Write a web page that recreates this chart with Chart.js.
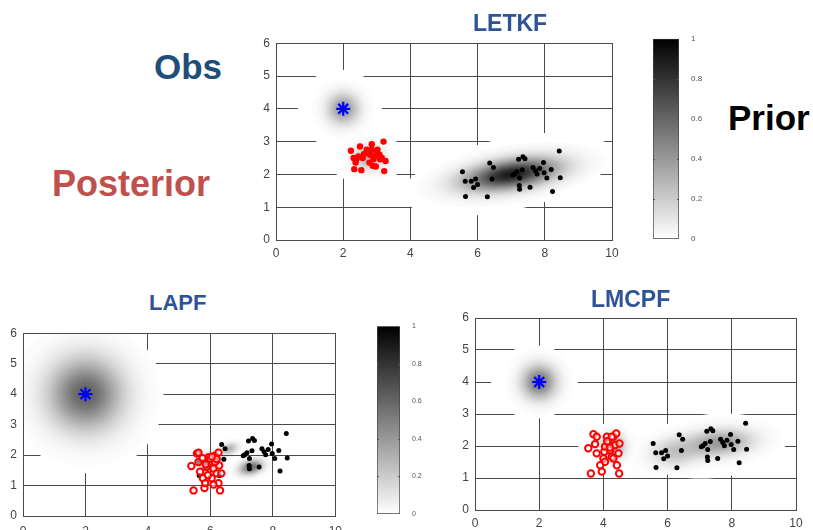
<!DOCTYPE html>
<html>
<head>
<meta charset="utf-8">
<script src="https://cdn.jsdelivr.net/npm/chart.js@4.4.1/dist/chart.umd.min.js"></script>
<style>
  html, body { margin: 0; padding: 0; background: #fff; }
  #stage { position: relative; width: 813px; height: 530px; overflow: hidden; font-family: 'Liberation Sans', Arial, sans-serif; }
  canvas { position: absolute; }
  .lbl { position: absolute; font-weight: bold; white-space: nowrap; line-height: 1; }
</style>
</head>
<body>
<div id="stage">
  <canvas id="c-letkf" width="390" height="230" style="left:240px;top:30px"></canvas>
  <canvas id="c-cb1" width="60" height="222" style="left:645px;top:30px"></canvas>
  <canvas id="c-lapf" width="350" height="210" style="left:0px;top:320px"></canvas>
  <canvas id="c-cb2" width="55" height="205" style="left:370px;top:318px"></canvas>
  <canvas id="c-lmcpf" width="373" height="230" style="left:440px;top:300px"></canvas>

  <div class="lbl" style="left:473px;top:12px;font-size:23px;color:#2f5496">LETKF</div>
  <div class="lbl" style="left:149px;top:292px;font-size:22px;color:#2f5496">LAPF</div>
  <div class="lbl" style="left:591px;top:288px;font-size:23px;color:#2f5496">LMCPF</div>
  <div class="lbl" style="left:154px;top:49px;font-size:35px;color:#1f4e79">Obs</div>
  <div class="lbl" style="left:728px;top:100px;font-size:35px;color:#000">Prior</div>
  <div class="lbl" style="left:52px;top:166px;font-size:36px;color:#c0504d">Posterior</div>
</div>
<script>
// ── Dados ──
const obsX = [2];
const obsY = [4];

// prior (mesmo conjunto nos três painéis)
const priorX = [5.55, 5.64, 5.63, 5.81, 5.88, 5.94, 6.00, 6.29, 6.36, 6.47, 6.43, 7.22, 7.35, 7.41, 7.10, 7.17, 7.33, 7.25, 7.24, 7.25, 7.56, 7.65, 7.72, 7.77, 7.96, 7.98, 8.06, 8.19, 8.23, 8.43, 8.46, 7.05, 7.85];
const priorY = [2.08, 1.33, 1.79, 1.79, 1.60, 1.86, 1.69, 1.32, 2.35, 2.21, 1.86, 2.46, 2.54, 2.48, 2.01, 2.08, 2.14, 1.89, 1.66, 1.55, 1.61, 2.21, 2.11, 2.01, 2.36, 2.05, 1.89, 2.15, 1.48, 2.71, 1.90, 1.98, 2.18];

const letkfPostX = [2.23, 2.31, 2.33, 2.37, 2.40, 2.54, 2.50, 2.58, 2.70, 2.80, 2.85, 2.85, 2.90, 2.88, 2.97, 3.00, 3.02, 3.08, 3.15, 3.20, 3.26, 3.22, 2.78, 3.10, 2.93, 2.62, 2.45];
const letkfPostY = [2.72, 2.50, 2.16, 2.36, 2.48, 2.13, 2.85, 2.50, 2.75, 2.60, 2.92, 2.75, 2.46, 2.26, 2.24, 2.65, 2.75, 2.60, 2.50, 3.00, 2.41, 2.10, 2.36, 2.46, 2.55, 2.62, 2.55];

const lapfPostX = [5.39, 5.46, 5.57, 5.62, 5.67, 5.76, 5.81, 5.83, 5.88, 5.94, 6.04, 6.10, 6.15, 6.20, 6.26, 6.28, 6.31, 6.35, 6.26, 6.04, 5.62, 5.92, 6.15, 5.99, 5.75, 6.20, 6.10, 6.05, 5.85];
const lapfPostY = [1.64, 0.84, 2.05, 1.77, 1.45, 1.24, 0.92, 1.08, 1.61, 1.93, 1.77, 1.56, 1.98, 1.40, 2.08, 1.66, 0.84, 1.40, 1.08, 1.24, 2.08, 1.34, 1.77, 1.88, 1.90, 1.87, 1.03, 1.95, 1.70];

const lmcpfPostX = [3.53, 3.61, 3.69, 3.74, 3.79, 3.90, 3.95, 4.00, 4.03, 4.05, 4.11, 4.16, 4.21, 4.26, 4.31, 4.37, 4.40, 4.42, 4.47, 4.49, 4.50, 4.31, 4.05, 3.79, 4.26, 4.20, 4.12];
const lmcpfPostY = [1.93, 1.14, 2.37, 2.06, 1.77, 1.40, 1.20, 1.61, 1.82, 1.51, 2.29, 2.08, 1.87, 1.66, 2.29, 2.03, 2.39, 1.40, 1.77, 1.14, 2.08, 1.61, 1.98, 2.29, 2.29, 1.95, 2.15];

const xTicks = [0, 2, 4, 6, 8, 10];
const yTicks = [0, 1, 2, 3, 4, 5, 6];
const cbTicks = [0, 0.2, 0.4, 0.6, 0.8, 1];

// ── Manchas de densidade (máscara branca + gaussiana em cinza) ──
const blobsLetkf = {
  masks: [
    { cx: 1.9, cy: 4.0, rx: 1.25, ry: 1.2, rot: 0 },
    { cx: 2.7, cy: 2.5, rx: 1.15, ry: 0.8, rot: 0 },
    { cx: 6.9, cy: 2.0, rx: 3.2, ry: 1.1, rot: 12 }
  ],
  gauss: [
    { cx: 2.0, cy: 4.0, sx: 0.32, sy: 0.32, rot: 0, peak: 0.42 },
    { cx: 2.75, cy: 2.5, sx: 0.3, sy: 0.25, rot: 0, peak: 0.3 },
    { cx: 7.0, cy: 2.0, sx: 0.95, sy: 0.3, rot: 9, peak: 0.9 }
  ]
};
const blobsLapf = {
  masks: [
    { cx: 2.1, cy: 3.9, rx: 2.4, ry: 2.5, rot: 0 }
  ],
  gauss: [
    { cx: 2.0, cy: 4.0, sx: 0.8, sy: 0.8, rot: 0, peak: 0.62 },
    { cx: 6.6, cy: 2.2, sx: 0.2, sy: 0.12, rot: 20, peak: 0.3 },
    { cx: 7.3, cy: 1.6, sx: 0.25, sy: 0.15, rot: 15, peak: 0.6 },
    { cx: 6.0, cy: 1.7, sx: 0.2, sy: 0.2, rot: 0, peak: 0.5 }
  ]
};
const blobsLmcpf = {
  masks: [
    { cx: 1.85, cy: 4.0, rx: 1.35, ry: 1.15, rot: 0 },
    { cx: 4.2, cy: 1.9, rx: 1.0, ry: 0.8, rot: 0 },
    { cx: 7.4, cy: 2.0, rx: 2.3, ry: 1.0, rot: 5 }
  ],
  gauss: [
    { cx: 2.0, cy: 4.0, sx: 0.36, sy: 0.36, rot: 0, peak: 0.55 },
    { cx: 4.3, cy: 2.0, sx: 0.25, sy: 0.25, rot: 0, peak: 0.4 },
    { cx: 6.2, cy: 1.8, sx: 0.5, sy: 0.3, rot: 5, peak: 0.22 },
    { cx: 7.6, cy: 2.1, sx: 0.7, sy: 0.28, rot: 5, peak: 0.4 }
  ]
};

const GRID = '#4a4a4a';
const pts = (xs, ys) => xs.map((x, i) => ({ x: x, y: ys[i] }));

const blobPlugin = {
  id: 'blobs',
  beforeDatasetsDraw(chart, args, opts) {
    const b = opts.blobs; if (!b) return;
    const ctx = chart.ctx, ca = chart.chartArea;
    const xs = chart.scales.x, ys = chart.scales.y;
    const kx = xs.getPixelForValue(1) - xs.getPixelForValue(0);
    const ky = ys.getPixelForValue(0) - ys.getPixelForValue(1);
    ctx.save();
    ctx.beginPath(); ctx.rect(ca.left, ca.top, ca.width, ca.height); ctx.clip();
    b.masks.forEach(m => {
      ctx.save();
      ctx.translate(xs.getPixelForValue(m.cx), ys.getPixelForValue(m.cy));
      ctx.rotate(-m.rot * Math.PI / 180);
      ctx.scale(m.rx * kx, m.ry * ky);
      ctx.beginPath(); ctx.arc(0, 0, 1, 0, Math.PI * 2);
      ctx.fillStyle = '#fff'; ctx.fill();
      ctx.restore();
    });
    b.gauss.forEach(g => {
      ctx.save();
      ctx.translate(xs.getPixelForValue(g.cx), ys.getPixelForValue(g.cy));
      ctx.rotate(-g.rot * Math.PI / 180);
      ctx.scale(g.sx * kx, g.sy * ky);
      const gr = ctx.createRadialGradient(0, 0, 0, 0, 0, 3);
      for (let i = 0; i <= 20; i++) {
        const t = i / 20, r = 3 * t;
        gr.addColorStop(t, 'rgba(0,0,0,' + (g.peak * Math.exp(-r * r / 2)).toFixed(4) + ')');
      }
      ctx.beginPath(); ctx.arc(0, 0, 3, 0, Math.PI * 2);
      ctx.fillStyle = gr; ctx.fill();
      ctx.restore();
    });
    ctx.restore();
  },
  afterDatasetsDraw(chart) {
    const ctx = chart.ctx, ca = chart.chartArea;
    ctx.save();
    ctx.strokeStyle = GRID; ctx.lineWidth = 1;
    ctx.strokeRect(Math.round(ca.left) + 0.5, Math.round(ca.top) + 0.5, Math.round(ca.width), Math.round(ca.height));
    ctx.restore();
  }
};

function makeScatter(id, post, postHollow, blobs, pad, yW, xH, xPad) {
  const ctx = document.getElementById(id).getContext('2d');
  return new Chart(ctx, {
    type: 'scatter',
    data: {
      datasets: [
        { label: 'Obs', data: pts(obsX, obsY), pointStyle: 'star', radius: 7, borderColor: '#0000ff', backgroundColor: '#0000ff', borderWidth: 2.2 },
        postHollow
          ? { label: 'Posterior', data: post, pointStyle: 'circle', radius: 3.2, borderColor: '#ff0000', backgroundColor: 'rgba(255,255,255,0.5)', borderWidth: 2 }
          : { label: 'Posterior', data: post, pointStyle: 'circle', radius: 3.2, borderColor: '#ff0000', backgroundColor: '#ff0000', borderWidth: 0 },
        { label: 'Prior', data: pts(priorX, priorY), pointStyle: 'circle', radius: 2.5, borderColor: '#000', backgroundColor: '#000', borderWidth: 0 }
      ]
    },
    plugins: [blobPlugin],
    options: {
      responsive: false, animation: false, devicePixelRatio: 1,
      layout: { padding: pad },
      plugins: { legend: { display: false }, tooltip: { enabled: false }, blobs: { blobs: blobs } },
      scales: {
        x: {
          type: 'linear', min: 0, max: 10,
          afterBuildTicks: s => { s.ticks = xTicks.map(v => ({ value: v })); },
          ticks: { color: '#444', font: { family: "'Liberation Sans', Arial", size: 12 }, padding: xPad, maxRotation: 0 },
          grid: { color: GRID, lineWidth: 1, drawTicks: false },
          border: { display: false },
          afterFit: s => { s.height = xH; }
        },
        y: {
          type: 'linear', min: 0, max: 6,
          afterBuildTicks: s => { s.ticks = yTicks.map(v => ({ value: v })); },
          ticks: { color: '#444', font: { family: "'Liberation Sans', Arial", size: 12 }, padding: 6 },
          grid: { color: GRID, lineWidth: 1, drawTicks: false },
          border: { display: false },
          afterFit: s => { s.width = yW; }
        }
      }
    }
  });
}

const cbTickPlugin = {
  id: 'cbTicks',
  afterDatasetsDraw(chart) {
    const ctx = chart.ctx, ca = chart.chartArea, ys = chart.scales.y;
    ctx.save();
    ctx.strokeStyle = '#555'; ctx.lineWidth = 1;
    cbTicks.slice(1, -1).forEach(v => {
      const y = Math.round(ys.getPixelForValue(v)) + 0.5;
      ctx.beginPath();
      ctx.moveTo(ca.left, y); ctx.lineTo(ca.left + 2, y);
      ctx.moveTo(ca.right - 2, y); ctx.lineTo(ca.right, y);
      ctx.stroke();
    });
    ctx.restore();
  }
};

function makeColorbar(id, pad, yW, fs) {
  const ctx = document.getElementById(id).getContext('2d');
  return new Chart(ctx, {
    type: 'bar',
    data: {
      labels: [''],
      datasets: [{
        data: [1],
        backgroundColor: c => {
          const ca = c.chart.chartArea;
          if (!ca) return '#888';
          const g = c.chart.ctx.createLinearGradient(0, ca.bottom, 0, ca.top);
          g.addColorStop(0, '#ffffff'); g.addColorStop(1, '#000000');
          return g;
        },
        borderColor: '#444', borderWidth: 1, borderSkipped: false,
        barPercentage: 1, categoryPercentage: 1
      }]
    },
    plugins: [cbTickPlugin],
    options: {
      responsive: false, animation: false, devicePixelRatio: 1,
      layout: { padding: pad },
      plugins: { legend: { display: false }, tooltip: { enabled: false } },
      scales: {
        x: { display: false },
        y: {
          position: 'right', min: 0, max: 1,
          afterBuildTicks: s => { s.ticks = cbTicks.map(v => ({ value: v })); },
          ticks: { color: '#555', font: { family: "'Liberation Sans', Arial", size: fs }, padding: 4, callback: v => String(+v.toFixed(1)) },
          grid: { display: false }, border: { display: false },
          afterFit: s => { s.width = yW; }
        }
      }
    }
  });
}

makeScatter('c-letkf', pts(letkfPostX, letkfPostY), false, blobsLetkf, { left: 0, top: 8, right: 18, bottom: 0 }, 36, 20, 6);
makeScatter('c-lapf', pts(lapfPostX, lapfPostY), true, blobsLapf, { left: 0, top: 7, right: 12, bottom: 0 }, 23, 14, 8);
makeScatter('c-lmcpf', pts(lmcpfPostX, lmcpfPostY), true, blobsLmcpf, { left: 0, top: 18, right: 17, bottom: 0 }, 35, 20, 6);
makeColorbar('c-cb1', { left: 8, top: 8, right: 0, bottom: 13 }, 26, 8);
makeColorbar('c-cb2', { left: 7, top: 8, right: 0, bottom: 9 }, 25, 7);
</script>
</body>
</html>
